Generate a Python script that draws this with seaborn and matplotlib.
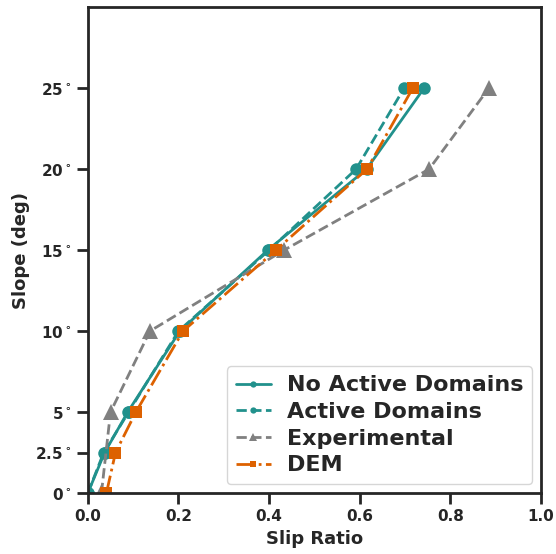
import pandas as pd
import seaborn as sns
import matplotlib.pyplot as plt

slopes = [0, 2.5, 5, 10, 15, 20, 25]
no_active = [0.0, 0.037, 0.088, 0.203, 0.397, 0.615, 0.742]
active = [0.0, 0.035, 0.090, 0.200, 0.400, 0.592, 0.698]
exp_slopes = [0, 5, 10, 15, 20, 25]
experimental = [0.030, 0.050, 0.137, 0.433, 0.753, 0.885]
dem = [0.041, 0.061, 0.106, 0.210, 0.415, 0.616, 0.717]

ytick_vals = [0, 2.5, 5, 10, 15, 20, 25]
ytick_labels = [r'0$^\circ$', r'2.5$^\circ$', r'5$^\circ$', r'10$^\circ$',
                r'15$^\circ$', r'20$^\circ$', r'25$^\circ$']

teal = '#21918c'
orange = '#dd6100'
gray = '#808080'

sns.set_theme(style='ticks')
plt.rcParams['font.weight'] = 'bold'
plt.rcParams['axes.labelweight'] = 'bold'

fig = plt.figure(figsize=(5.56, 5.54), dpi=100)
ax = fig.add_axes([0.158, 0.110, 0.815, 0.877])

ms = 9
lw = 2
sns.lineplot(x=no_active, y=slopes, sort=False, color=teal, linestyle='-', marker='o',
             markersize=ms, markeredgewidth=0, linewidth=lw, label='No Active Domains', ax=ax)
sns.lineplot(x=active, y=slopes, sort=False, color=teal, linestyle='--', marker='o',
             markersize=ms, markeredgewidth=0, linewidth=lw, label='Active Domains', ax=ax)
sns.lineplot(x=experimental, y=exp_slopes, sort=False, color=gray, linestyle='--', marker='^',
             markersize=ms + 2, markeredgewidth=0, linewidth=lw, label='Experimental', ax=ax)
sns.lineplot(x=dem, y=slopes, sort=False, color=orange, linestyle='-.', marker='s',
             markersize=ms, markeredgewidth=0, linewidth=lw, label='DEM', ax=ax)

ax.set_xlim(0, 1.0)
ax.set_ylim(0, 30)
ax.set_yticks(ytick_vals)
ax.set_yticklabels(ytick_labels)
ax.set_xticks([0, 0.2, 0.4, 0.6, 0.8, 1.0])
ax.set_xlabel('Slip Ratio', fontsize=13, fontweight='bold')
ax.set_ylabel('Slope (deg)', fontsize=13, fontweight='bold')
ax.tick_params(axis='both', labelsize=11, length=8, width=2, direction='out')
for lab in ax.get_xticklabels() + ax.get_yticklabels():
    lab.set_fontweight('bold')
for sp in ax.spines.values():
    sp.set_linewidth(2)
    sp.set_color('#262626')

leg = ax.legend(loc='lower right', prop={'size': 16, 'weight': 'bold'}, markerscale=0.5,
                handlelength=1.6, handletextpad=0.7, borderaxespad=0.4, labelspacing=0.3,
                frameon=True)
leg.get_frame().set_edgecolor('#cccccc')

fig.savefig('out.png', dpi=100)
